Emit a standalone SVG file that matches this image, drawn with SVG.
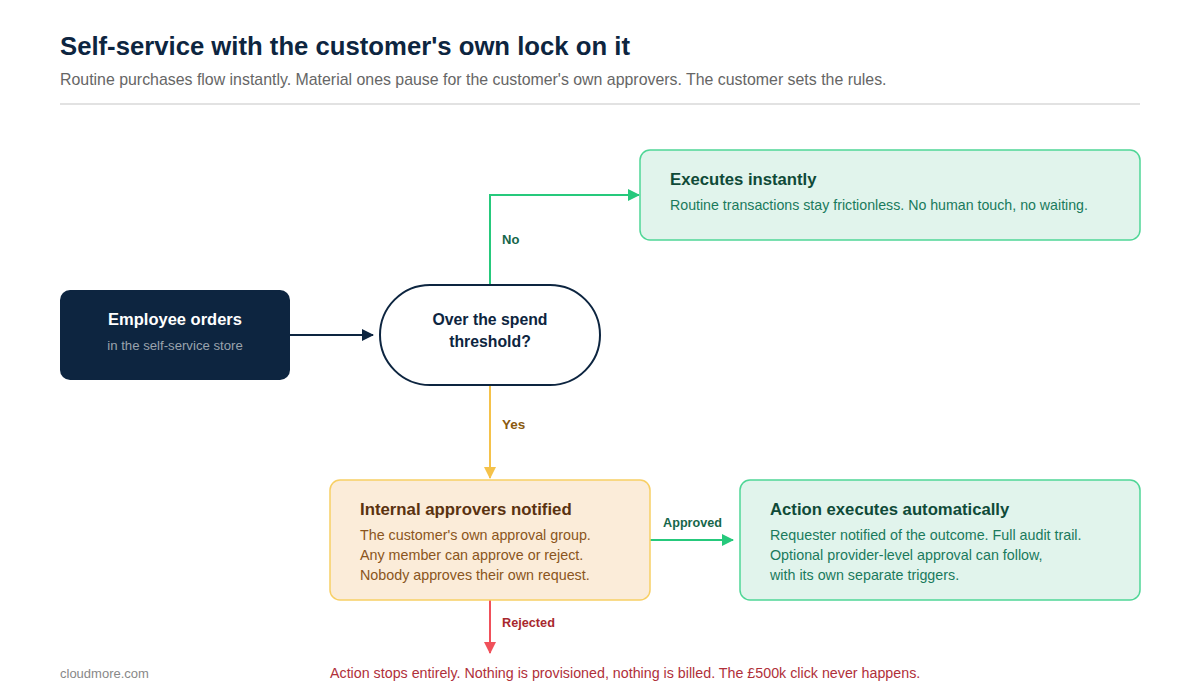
<svg xmlns="http://www.w3.org/2000/svg" width="1200" height="700" viewBox="0 0 1200 700">
<style>
text{font-family:"Liberation Sans",Arial,sans-serif}
.h{font-weight:bold}
.lbl{font-size:13px;font-weight:bold}
</style>
<defs>
<marker id="aNavy" markerWidth="12" markerHeight="12" refX="11" refY="6" orient="auto" markerUnits="userSpaceOnUse"><path d="M0,0 L12,6 L0,12 z" fill="#0d2540"/></marker>
<marker id="aGreen" markerWidth="12" markerHeight="12" refX="11" refY="6" orient="auto" markerUnits="userSpaceOnUse"><path d="M0,0 L12,6 L0,12 z" fill="#26c97c"/></marker>
<marker id="aYellow" markerWidth="12" markerHeight="12" refX="11" refY="6" orient="auto" markerUnits="userSpaceOnUse"><path d="M0,0 L12,6 L0,12 z" fill="#f5c24a"/></marker>
<marker id="aRed" markerWidth="12" markerHeight="12" refX="11" refY="6" orient="auto" markerUnits="userSpaceOnUse"><path d="M0,0 L12,6 L0,12 z" fill="#f0505a"/></marker>
</defs>
<rect width="1200" height="700" fill="#ffffff"/>
<g id="header">
<text x="60" y="55" font-size="25.7" class="h" fill="#0d2540">Self-service with the customer's own lock on it</text>
<text x="60" y="85" font-size="15.9" fill="#666666">Routine purchases flow instantly. Material ones pause for the customer's own approvers. The customer sets the rules.</text>
<line x1="60" y1="104" x2="1140" y2="104" stroke="#e2e2e2" stroke-width="2"/>
</g>
<g id="connectors" fill="none" stroke-width="2">
<line x1="290" y1="335" x2="373" y2="335" stroke="#0d2540" marker-end="url(#aNavy)"/>
<polyline points="490,285 490,195 639,195" stroke="#26c97c" marker-end="url(#aGreen)"/>
<line x1="490" y1="385" x2="490" y2="478" stroke="#f5c24a" marker-end="url(#aYellow)"/>
<line x1="650" y1="540" x2="733" y2="540" stroke="#26c97c" marker-end="url(#aGreen)"/>
<line x1="490" y1="600" x2="490" y2="653" stroke="#f0505a" marker-end="url(#aRed)"/>
<text x="502" y="244" class="lbl" fill="#16664a" stroke="none">No</text>
<text x="502" y="429" font-size="13.5" font-weight="bold" fill="#8a5a10" stroke="none">Yes</text>
<text x="692.5" y="527" font-size="12.6" font-weight="bold" text-anchor="middle" fill="#16664a" stroke="none">Approved</text>
<text x="502" y="627" font-size="12.7" font-weight="bold" fill="#a8282e" stroke="none">Rejected</text>
</g>
<g id="employee">
<rect x="60" y="290" width="230" height="90" rx="10" fill="#0d2540"/>
<text x="175" y="325" font-size="16.5" class="h" text-anchor="middle" fill="#ffffff">Employee orders</text>
<text x="175" y="350" font-size="13.2" text-anchor="middle" fill="#9aa3ad">in the self-service store</text>
</g>
<g id="decision">
<rect x="380" y="285" width="220" height="100" rx="50" fill="#ffffff" stroke="#0d2540" stroke-width="2"/>
<text x="490" y="325" font-size="15.8" class="h" text-anchor="middle" fill="#0d2540">Over the spend</text>
<text x="490" y="347" font-size="15.8" class="h" text-anchor="middle" fill="#0d2540">threshold?</text>
</g>
<g id="instant">
<rect x="640" y="150" width="500" height="90" rx="10" fill="#e1f4ec" stroke="#4fd696" stroke-width="1.5"/>
<text x="670" y="185" font-size="16.7" class="h" fill="#0f4a38">Executes instantly</text>
<text x="670" y="210" font-size="14.2" fill="#1a7a5c">Routine transactions stay frictionless. No human touch, no waiting.</text>
</g>
<g id="approvers">
<rect x="330" y="480" width="320" height="120" rx="10" fill="#fbecd9" stroke="#f8cf64" stroke-width="1.5"/>
<text x="360" y="515" font-size="16.8" class="h" fill="#5a3210">Internal approvers notified</text>
<text x="360" y="540" font-size="14.3" fill="#8a5520">The customer's own approval group.</text>
<text x="360" y="560" font-size="14.3" fill="#8a5520">Any member can approve or reject.</text>
<text x="360" y="580" font-size="14.3" fill="#8a5520">Nobody approves their own request.</text>
</g>
<g id="auto">
<rect x="740" y="480" width="400" height="120" rx="10" fill="#e1f4ec" stroke="#4fd696" stroke-width="1.5"/>
<text x="770" y="515" font-size="16.7" class="h" fill="#0f4a38">Action executes automatically</text>
<text x="770" y="540" font-size="14.3" fill="#1a7a5c">Requester notified of the outcome. Full audit trail.</text>
<text x="770" y="560" font-size="14.3" fill="#1a7a5c">Optional provider-level approval can follow,</text>
<text x="770" y="580" font-size="14.3" fill="#1a7a5c">with its own separate triggers.</text>
</g>
<g id="footer">
<text x="60" y="678" font-size="13" fill="#888888">cloudmore.com</text>
<text x="330" y="678" font-size="14.27" fill="#b0303a">Action stops entirely. Nothing is provisioned, nothing is billed. The £500k click never happens.</text>
</g>
</svg>
